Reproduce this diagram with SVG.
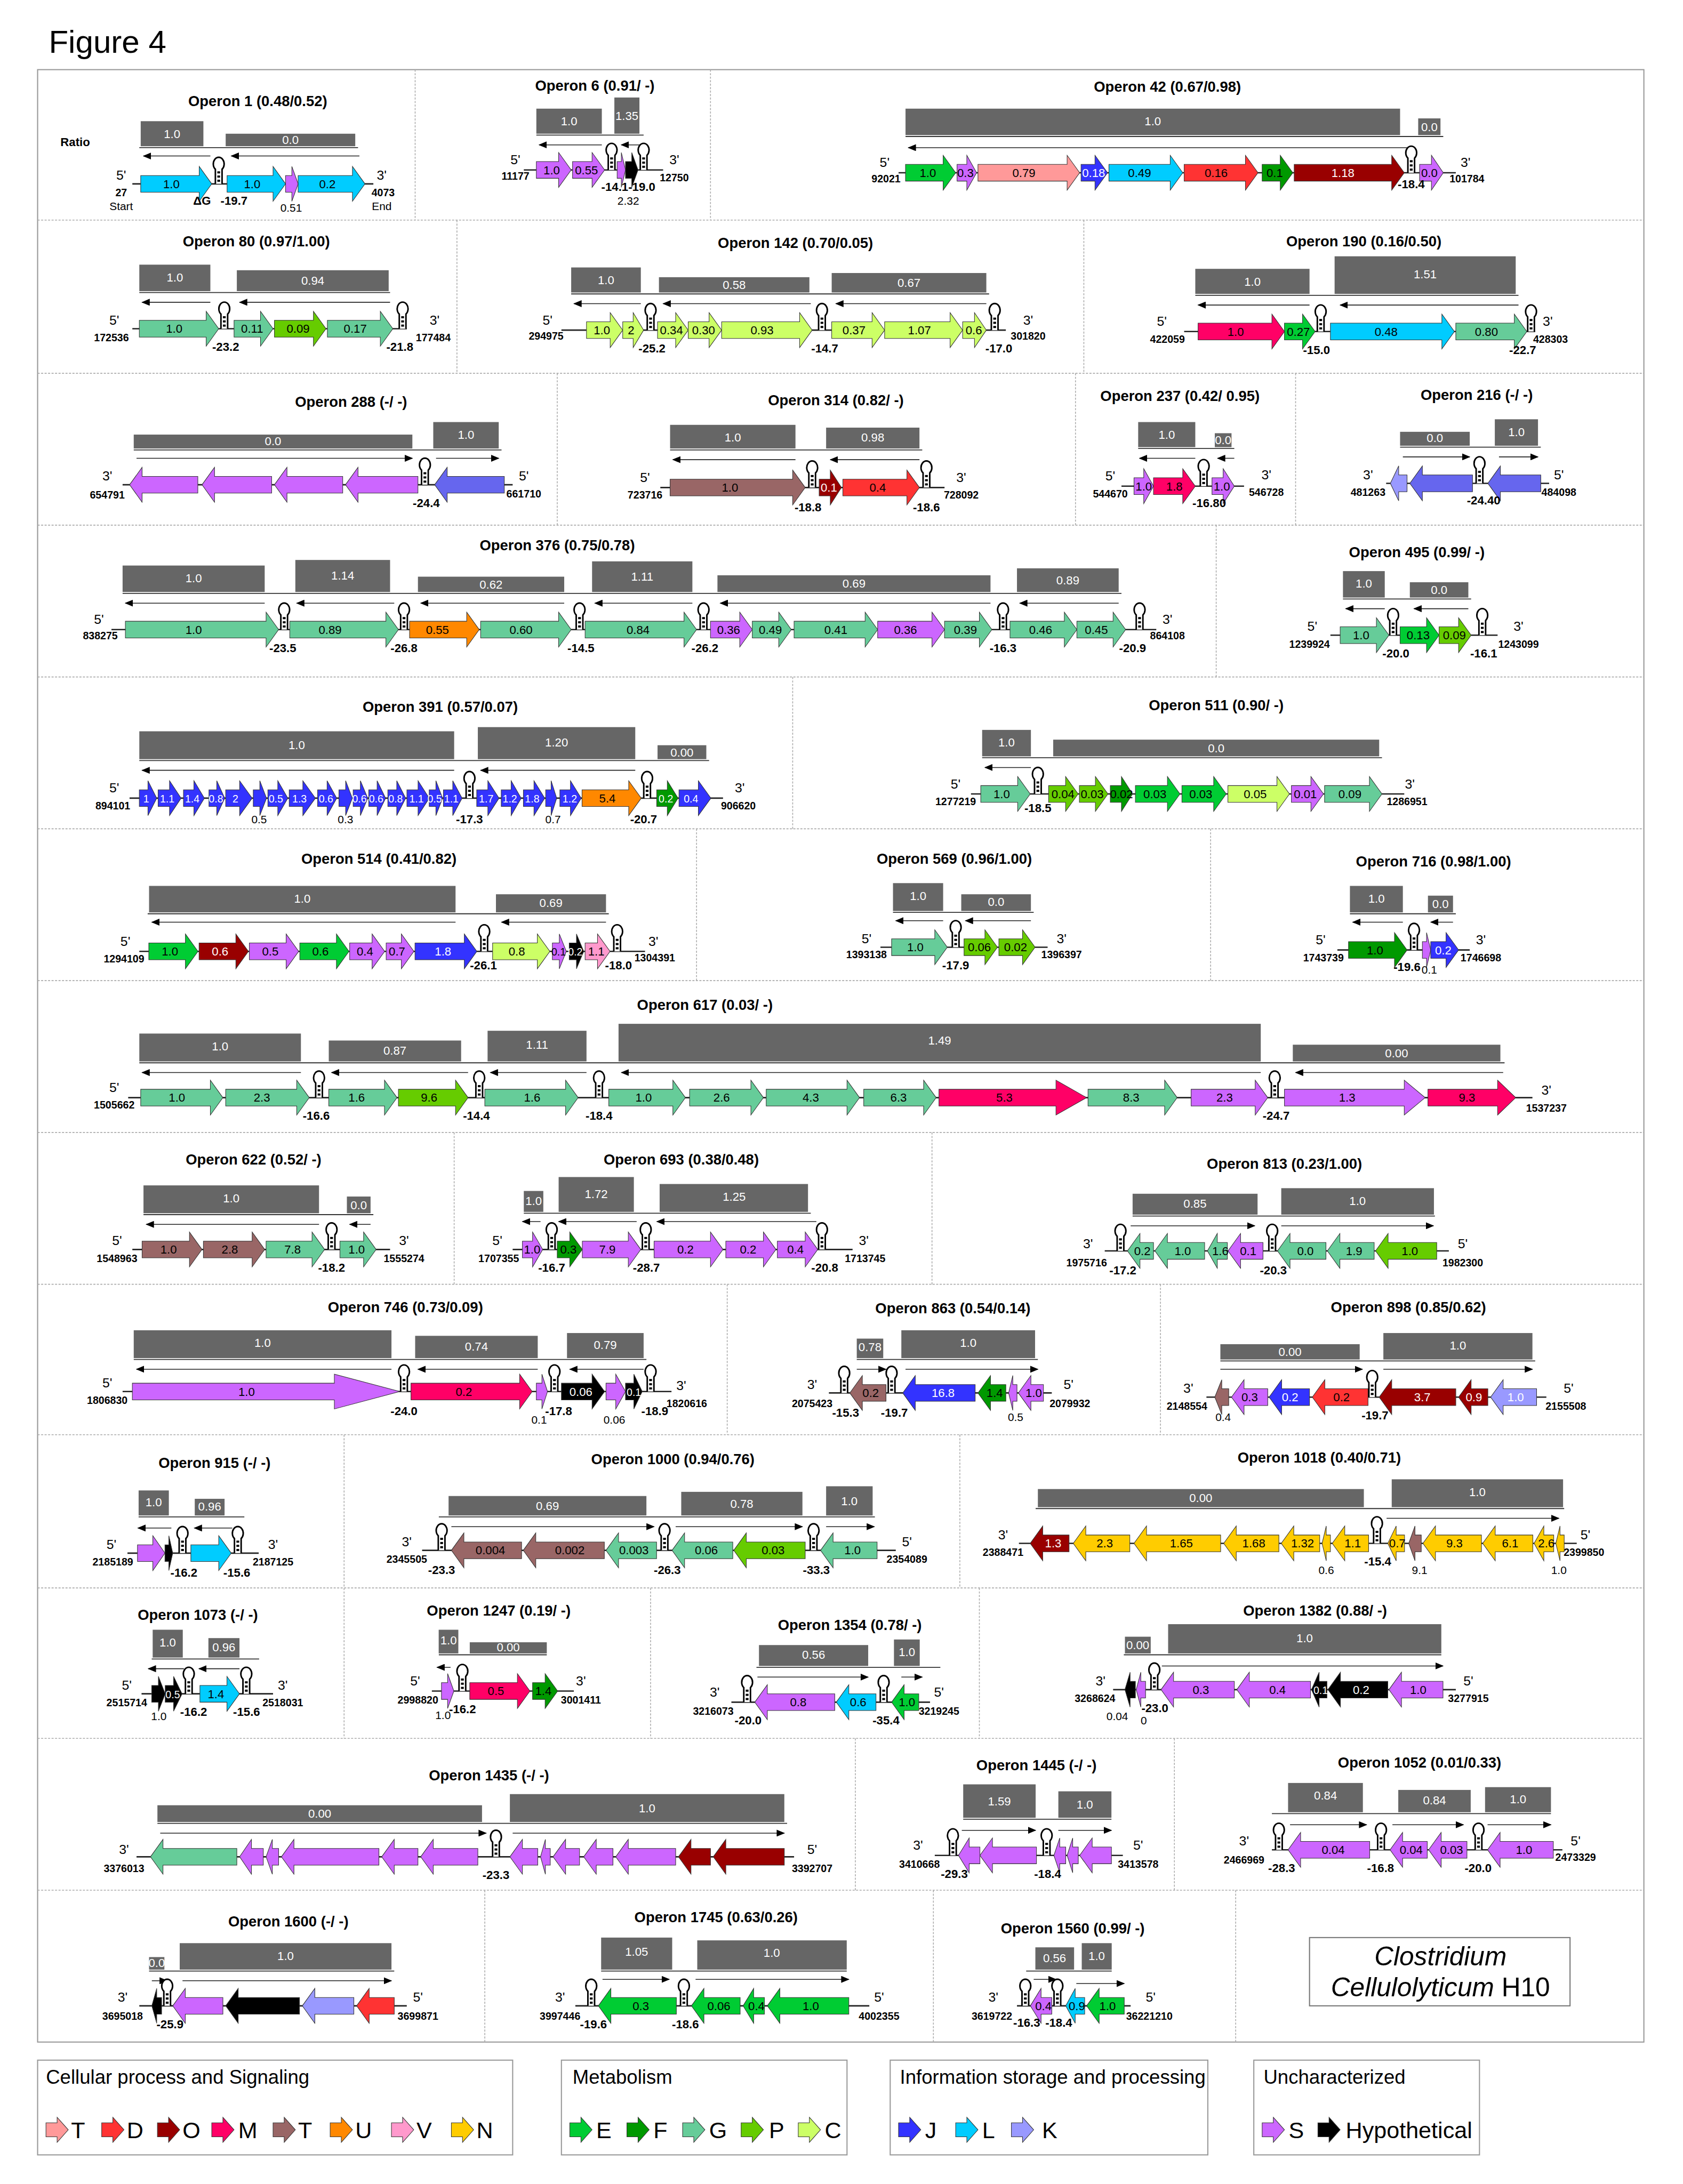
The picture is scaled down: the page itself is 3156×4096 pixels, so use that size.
<svg xmlns="http://www.w3.org/2000/svg" width="3156" height="4096" viewBox="0 0 3156 4096">
<style>
text{font-family:'Liberation Sans Narrow','Arial Narrow','Liberation Sans',Arial,sans-serif;fill:#000}
.ti{font-size:10.5px;font-weight:bold;text-anchor:middle}
.bl{font-size:8.5px;fill:#fff;text-anchor:middle}
.gl{font-size:8.5px;text-anchor:middle}
.gs{font-size:7.5px;text-anchor:middle}
.w{fill:#fff}
.cd{font-size:7.5px;font-weight:bold;text-anchor:middle}
.dg{font-size:8.5px;font-weight:bold;text-anchor:middle}
.pr{font-size:9.5px;text-anchor:middle}
.nm{font-size:8px;text-anchor:middle}
.b{fill:#666}
.bs{stroke:#333;stroke-width:.7}
.tr{stroke:#222;stroke-width:.6;marker-end:url(#ah)}
.dna{stroke:#222;stroke-width:1}
.gn path{stroke:#333;stroke-width:.4}
.cT1{fill:#ff9999}.cD{fill:#ff3333}.cO{fill:#990000}.cM{fill:#ff0066}.cT2{fill:#996666}.cU{fill:#ff8800}.cV{fill:#ff99cc}.cN{fill:#ffcc00}
.cE{fill:#00cc33}.cF{fill:#009900}.cG{fill:#66cc99}.cP{fill:#66cc00}.cC{fill:#ccff66}
.cJ{fill:#3333ff}.cL{fill:#00ccff}.cK{fill:#9999ff}.cS{fill:#cc66ff}.cH{fill:#000}.cB{fill:#6666ee}
.lg{font-size:14px}
.ll{font-size:16.5px}
</style>
<defs>
<marker id="ah" viewBox="0 0 6 5" refX="5.5" refY="2.5" markerWidth="6" markerHeight="5" markerUnits="userSpaceOnUse" orient="auto"><path d="M0,0L6,2.5L0,5z" fill="#000"/></marker>
<g id="hp"><path d="M-2.4 0V-10.5A3.9 4.8 0 1 1 2.4 -10.5V0" fill="#fff" stroke="#000" stroke-width="1.1"/><rect x="-1" y="-9" width="2" height="1.5"/><rect x="-1" y="-6" width="2" height="1.5"/><rect x="-1" y="-3" width="2" height="1.5"/></g>
</defs>
<rect width="3156" height="4096" fill="#fff"/>
<g transform="scale(2.6124)">
<text x="35" y="38" style="font-size:23px;font-family:'Liberation Sans',Arial,sans-serif">Figure 4</text>
<g id="grid" fill="none">
<rect x="27" y="50" width="1153" height="1416" stroke="#999" stroke-width=".8"/>
<g stroke="#aaa" stroke-width=".6" stroke-dasharray="1.5 1">
<path d="M27 158H1180M27 268H1180M27 377H1180M27 486H1180M27 595H1180M27 704H1180M27 813H1180M27 922H1180M27 1030H1180M27 1140H1180M27 1248H1180M27 1357H1180"/>
<path d="M298 50V158M510 50V158M328 158V268M778 158V268M400 268V377M772 268V377M930 268V377M873 377V486M569 486V595M500 595V704M869 595V704M326 813V922M669 813V922M522 922V1030M833 922V1030M247 1030V1140M689 1030V1140M247 1140V1248M467 1140V1248M703 1140V1248M614 1248V1357M843 1248V1357M348 1357V1466M670 1357V1466M887 1357V1466"/>
</g>
</g>

<!-- Operon 1 -->
<g id="op1" class="gn">
<text class="ti" x="185" y="76">Operon 1 (0.48/0.52)</text>
<text class="dg" x="54" y="105">Ratio</text>
<rect class="b" x="101" y="87" width="45" height="18"/><text class="bl" x="123.5" y="99">1.0</text>
<rect class="b" x="162" y="96" width="93" height="9"/><text class="bl" x="208.5" y="103.5">0.0</text>
<line class="bs" x1="100" y1="106" x2="257" y2="106"/>
<line class="tr" x1="151" y1="112" x2="103" y2="112"/>
<line class="tr" x1="258" y1="112" x2="166" y2="112"/>
<line class="dna" x1="95" y1="132" x2="268" y2="132"/>
<g transform="translate(0,132)">
<path class="cL" d="M101 -6H143V-12.5L152 0L143 12.5V6H101Z"/><text class="gl" x="123" y="3">1.0</text>
<path class="cL" d="M163 -6H196V-12.5L205 0L196 12.5V6H163Z"/><text class="gl" x="181" y="3">1.0</text>
<path class="cS" d="M205 -6H209.5V-12.5L214 0L209.5 12.5V6H205Z"/>
<path class="cL" d="M214 -6H253V-12.5L262 0L253 12.5V6H214Z"/><text class="gl" x="235" y="3">0.2</text>
</g>
<use href="#hp" x="157" y="132"/>
<text class="pr" x="87" y="129">5'</text><text class="cd" x="87" y="141">27</text><text class="nm" x="87" y="151">Start</text>
<text class="dg" x="145" y="147">ΔG</text><text class="dg" x="168" y="147">-19.7</text><text class="nm" x="209" y="152">0.51</text>
<text class="pr" x="274" y="129">3'</text><text class="cd" x="275" y="141">4073</text><text class="nm" x="274" y="151">End</text>
</g>

<!-- Operon 6 -->
<g id="op6" class="gn">
<text class="ti" x="427" y="65">Operon 6 (0.91/ -)</text>
<rect class="b" x="385" y="78" width="47" height="18"/><text class="bl" x="408.5" y="90">1.0</text>
<rect class="b" x="441" y="70" width="18" height="26"/><text class="bl" x="450" y="86">1.35</text>
<line class="bs" x1="385" y1="97" x2="462" y2="97"/>
<line class="tr" x1="432" y1="104" x2="387" y2="104"/>
<line class="tr" x1="460" y1="104" x2="446" y2="104"/>
<line class="dna" x1="376" y1="122" x2="476" y2="122"/>
<g transform="translate(0,122)">
<path class="cS" d="M385 -6H401V-12.5L410 0L401 12.5V6H385Z"/><text class="gl" x="396" y="3">1.0</text>
<path class="cS" d="M411 -6H425V-12.5L434 0L425 12.5V6H411Z"/><text class="gl" x="421" y="3">0.55</text>
<path class="cS" d="M443 -6H446V-12.5L449 0L446 12.5V6H443Z"/>
<path class="cH" d="M449 -6H453.5V-12.5L458 0L453.5 12.5V6H449Z"/>
</g>
<use href="#hp" x="439" y="122"/><use href="#hp" x="462" y="122"/>
<text class="pr" x="370" y="118">5'</text><text class="cd" x="370" y="129">11177</text>
<text class="dg" x="451" y="137">-14.1-19.0</text><text class="nm" x="451" y="147">2.32</text>
<text class="pr" x="484" y="118">3'</text><text class="cd" x="484" y="130">12750</text>
</g>

<!-- Operon 42 -->
<g id="op42" class="gn">
<text class="ti" x="838" y="66">Operon 42 (0.67/0.98)</text>
<rect class="b" x="650" y="78" width="355" height="19"/><text class="bl" x="827.5" y="90">1.0</text>
<rect class="b" x="1018" y="85" width="16" height="12"/><text class="bl" x="1026" y="94">0.0</text>
<line class="bs" x1="650" y1="98" x2="1036" y2="98"/>
<line class="tr" x1="1010" y1="106" x2="652" y2="106"/>
<line class="dna" x1="645" y1="124" x2="1045" y2="124"/>
<g transform="translate(0,124)">
<path class="cE" d="M650 -6H677V-12.5L686 0L677 12.5V6H650Z"/><text class="gl" x="666" y="3">1.0</text>
<path class="cS" d="M687 -6H694V-12.5L701 0L694 12.5V6H687Z"/><text class="gl" x="693" y="3">0.3</text>
<path class="cT1" d="M702 -6H766V-12.5L775 0L766 12.5V6H702Z"/><text class="gl" x="735" y="3">0.79</text>
<path class="cJ" d="M776 -6H786V-12.5L795 0L786 12.5V6H776Z"/><text class="gl w" x="785" y="3">0.18</text>
<path class="cL" d="M796 -6H840V-12.5L849 0L840 12.5V6H796Z"/><text class="gl" x="818" y="3">0.49</text>
<path class="cD" d="M850 -6H894V-12.5L903 0L894 12.5V6H850Z"/><text class="gl" x="873" y="3">0.16</text>
<path class="cF" d="M906 -6H919V-12.5L928 0L919 12.5V6H906Z"/><text class="gl" x="915" y="3">0.1</text>
<path class="cO" d="M929 -6H999V-12.5L1008 0L999 12.5V6H929Z"/><text class="gl w" x="964" y="3">1.18</text>
<path class="cS" d="M1019 -6H1027.5V-12.5L1036 0L1027.5 12.5V6H1019Z"/><text class="gl" x="1026" y="3">0.0</text>
</g>
<use href="#hp" x="1013" y="124"/>
<text class="pr" x="635" y="120">5'</text><text class="cd" x="636" y="131">92021</text>
<text class="dg" x="1013" y="135">-18.4</text>
<text class="pr" x="1052" y="120">3'</text><text class="cd" x="1053" y="131">101784</text>
</g>

<!-- Operon 80 -->
<g id="op80" class="gn">
<text class="ti" x="184" y="177">Operon 80 (0.97/1.00)</text>
<rect class="b" x="100" y="190" width="51" height="19"/><text class="bl" x="125.5" y="202">1.0</text>
<rect class="b" x="170" y="194" width="109" height="15"/><text class="bl" x="224.5" y="204.5">0.94</text>
<line class="bs" x1="100" y1="210" x2="280" y2="210"/>
<line class="tr" x1="151" y1="217" x2="102" y2="217"/>
<line class="tr" x1="280" y1="217" x2="172" y2="217"/>
<line class="dna" x1="95" y1="236" x2="292" y2="236"/>
<g transform="translate(0,236)">
<path class="cG" d="M100 -6H148V-12.5L157 0L148 12.5V6H100Z"/><text class="gl" x="125" y="3">1.0</text>
<path class="cG" d="M168 -6H187V-12.5L196 0L187 12.5V6H168Z"/><text class="gl" x="181" y="3">0.11</text>
<path class="cP" d="M197 -6H225V-12.5L234 0L225 12.5V6H197Z"/><text class="gl" x="214" y="3">0.09</text>
<path class="cG" d="M235 -6H273V-12.5L282 0L273 12.5V6H235Z"/><text class="gl" x="255" y="3">0.17</text>
</g>
<use href="#hp" x="161" y="236"/><use href="#hp" x="289" y="236"/>
<text class="pr" x="82" y="233">5'</text><text class="cd" x="80" y="245">172536</text>
<text class="dg" x="162" y="252">-23.2</text><text class="dg" x="287" y="252">-21.8</text>
<text class="pr" x="312" y="233">3'</text><text class="cd" x="311" y="245">177484</text>
</g>

<!-- Operon 142 -->
<g id="op142" class="gn">
<text class="ti" x="571" y="178">Operon 142 (0.70/0.05)</text>
<rect class="b" x="410" y="192" width="50" height="18"/><text class="bl" x="435" y="204">1.0</text>
<rect class="b" x="473" y="199" width="108" height="11"/><text class="bl" x="527" y="207.5">0.58</text>
<rect class="b" x="597" y="196" width="111" height="14"/><text class="bl" x="652.5" y="206">0.67</text>
<line class="bs" x1="410" y1="211" x2="710" y2="211"/>
<line class="tr" x1="460" y1="218" x2="412" y2="218"/>
<line class="tr" x1="582" y1="218" x2="476" y2="218"/>
<line class="tr" x1="708" y1="218" x2="600" y2="218"/>
<line class="dna" x1="403" y1="237" x2="722" y2="237"/>
<g transform="translate(0,237)">
<path class="cC" d="M421 -6H438V-12.5L447 0L438 12.5V6H421Z"/><text class="gl" x="432" y="3">1.0</text>
<path class="cC" d="M447 -6H454.5V-12.5L462 0L454.5 12.5V6H447Z"/><text class="gl" x="453" y="3">2</text>
<path class="cC" d="M472 -6H485V-12.5L494 0L485 12.5V6H472Z"/><text class="gl" x="482" y="3">0.34</text>
<path class="cC" d="M494 -6H509V-12.5L518 0L509 12.5V6H494Z"/><text class="gl" x="505" y="3">0.30</text>
<path class="cC" d="M518 -6H574V-12.5L583 0L574 12.5V6H518Z"/><text class="gl" x="547" y="3">0.93</text>
<path class="cC" d="M597 -6H626V-12.5L635 0L626 12.5V6H597Z"/><text class="gl" x="613" y="3">0.37</text>
<path class="cC" d="M635 -6H682V-12.5L691 0L682 12.5V6H635Z"/><text class="gl" x="660" y="3">1.07</text>
<path class="cC" d="M691 -6H699.5V-12.5L708 0L699.5 12.5V6H691Z"/><text class="gl" x="699" y="3">0.6</text>
</g>
<use href="#hp" x="467" y="237"/><use href="#hp" x="590" y="237"/><use href="#hp" x="714" y="237"/>
<text class="pr" x="393" y="233">5'</text><text class="cd" x="392" y="244">294975</text>
<text class="dg" x="468" y="253">-25.2</text><text class="dg" x="592" y="253">-14.7</text><text class="dg" x="717" y="253">-17.0</text>
<text class="pr" x="738" y="233">3'</text><text class="cd" x="738" y="244">301820</text>
</g>

<!-- Operon 190 -->
<g id="op190" class="gn">
<text class="ti" x="979" y="177">Operon 190 (0.16/0.50)</text>
<rect class="b" x="858" y="193" width="82" height="18"/><text class="bl" x="899" y="205">1.0</text>
<rect class="b" x="958" y="184" width="130" height="27"/><text class="bl" x="1023" y="200">1.51</text>
<line class="bs" x1="858" y1="212" x2="1090" y2="212"/>
<line class="tr" x1="940" y1="219" x2="860" y2="219"/>
<line class="tr" x1="1090" y1="219" x2="962" y2="219"/>
<line class="dna" x1="850" y1="238" x2="1102" y2="238"/>
<g transform="translate(0,238)">
<path class="cM" d="M860 -6H913V-12.5L922 0L913 12.5V6H860Z"/><text class="gl" x="887" y="3">1.0</text>
<path class="cE" d="M922 -6H935V-12.5L944 0L935 12.5V6H922Z"/><text class="gl" x="932" y="3">0.27</text>
<path class="cL" d="M955 -6H1035V-12.5L1044 0L1035 12.5V6H955Z"/><text class="gl" x="995" y="3">0.48</text>
<path class="cG" d="M1045 -6H1087V-12.5L1096 0L1087 12.5V6H1045Z"/><text class="gl" x="1067" y="3">0.80</text>
</g>
<use href="#hp" x="948" y="238"/><use href="#hp" x="1099" y="238"/>
<text class="pr" x="834" y="234">5'</text><text class="cd" x="838" y="246">422059</text>
<text class="dg" x="945" y="254">-15.0</text><text class="dg" x="1093" y="254">-22.7</text>
<text class="pr" x="1111" y="234">3'</text><text class="cd" x="1113" y="246">428303</text>
</g>

<!-- Operon 288 -->
<g id="op288" class="gn">
<text class="ti" x="252" y="292">Operon 288 (-/ -)</text>
<rect class="b" x="96" y="312" width="200" height="10"/><text class="bl" x="196" y="319.5">0.0</text>
<rect class="b" x="311" y="303" width="47" height="19"/><text class="bl" x="334.5" y="315">1.0</text>
<line class="bs" x1="96" y1="323" x2="360" y2="323"/>
<line class="tr" x1="98" y1="329" x2="296" y2="329"/>
<line class="tr" x1="313" y1="329" x2="358" y2="329"/>
<line class="dna" x1="88" y1="348" x2="368" y2="348"/>
<g transform="translate(0,348)">
<path class="cS" d="M142 -6H102V-12.5L93 0L102 12.5V6H142Z"/>
<path class="cS" d="M195 -6H154V-12.5L145 0L154 12.5V6H195Z"/>
<path class="cS" d="M246 -6H206V-12.5L197 0L206 12.5V6H246Z"/>
<path class="cS" d="M300 -6H257V-12.5L248 0L257 12.5V6H300Z"/>
<path class="cB" d="M362 -6H321V-12.5L312 0L321 12.5V6H362Z"/>
</g>
<use href="#hp" x="305" y="348"/>
<text class="pr" x="77" y="345">3'</text><text class="cd" x="77" y="358">654791</text>
<text class="dg" x="306" y="364">-24.4</text>
<text class="pr" x="376" y="345">5'</text><text class="cd" x="376" y="357">661710</text>
</g>

<!-- Operon 314 -->
<g id="op314" class="gn">
<text class="ti" x="600" y="291">Operon 314 (0.82/ -)</text>
<rect class="b" x="481" y="305" width="90" height="17"/><text class="bl" x="526" y="317">1.0</text>
<rect class="b" x="593" y="307" width="67" height="15"/><text class="bl" x="626.5" y="317">0.98</text>
<line class="bs" x1="481" y1="323" x2="662" y2="323"/>
<line class="tr" x1="571" y1="330" x2="483" y2="330"/>
<line class="tr" x1="660" y1="330" x2="596" y2="330"/>
<line class="dna" x1="474" y1="350" x2="678" y2="350"/>
<g transform="translate(0,350)">
<path class="cT2" d="M481 -6H569V-12.5L578 0L569 12.5V6H481Z"/><text class="gl" x="524" y="3">1.0</text>
<path class="cO" d="M588 -6H596V-12.5L604 0L596 12.5V6H588Z"/><text class="gl w" x="595" y="3">0.1</text>
<path class="cD" d="M605 -6H651V-12.5L660 0L651 12.5V6H605Z"/><text class="gl" x="630" y="3">0.4</text>
</g>
<use href="#hp" x="583" y="350"/><use href="#hp" x="665" y="350"/>
<text class="pr" x="463" y="346">5'</text><text class="cd" x="463" y="358">723716</text>
<text class="dg" x="580" y="367">-18.8</text><text class="dg" x="665" y="367">-18.6</text>
<text class="pr" x="690" y="346">3'</text><text class="cd" x="690" y="358">728092</text>
</g>

<!-- Operon 237 -->
<g id="op237" class="gn">
<text class="ti" x="847" y="288">Operon 237 (0.42/ 0.95)</text>
<rect class="b" x="817" y="303" width="41" height="18"/><text class="bl" x="837.5" y="315">1.0</text>
<rect class="b" x="872" y="311" width="12" height="10"/><text class="bl" x="878" y="319">0.0</text>
<line class="bs" x1="817" y1="322" x2="886" y2="322"/>
<line class="tr" x1="858" y1="329" x2="818" y2="329"/>
<line class="tr" x1="886" y1="329" x2="874" y2="329"/>
<line class="dna" x1="805" y1="349" x2="893" y2="349"/>
<g transform="translate(0,349)">
<path class="cS" d="M814 -6H821V-12.5L828 0L821 12.5V6H814Z"/><text class="gl" x="821" y="3">1.0</text>
<path class="cM" d="M828 -6H849V-12.5L858 0L849 12.5V6H828Z"/><text class="gl" x="843" y="3">1.8</text>
<path class="cS" d="M870 -6H878V-12.5L886 0L878 12.5V6H870Z"/><text class="gl" x="877" y="3">1.0</text>
</g>
<use href="#hp" x="864" y="349"/>
<text class="pr" x="797" y="345">5'</text><text class="cd" x="797" y="357">544670</text>
<text class="dg" x="868" y="364">-16.80</text>
<text class="pr" x="909" y="344">3'</text><text class="cd" x="909" y="356">546728</text>
</g>

<!-- Operon 216 -->
<g id="op216" class="gn">
<text class="ti" x="1060" y="287">Operon 216 (-/ -)</text>
<rect class="b" x="1005" y="310" width="50" height="10"/><text class="bl" x="1030" y="317.5">0.0</text>
<rect class="b" x="1073" y="301" width="31" height="19"/><text class="bl" x="1088.5" y="313">1.0</text>
<line class="bs" x1="1005" y1="321" x2="1106" y2="321"/>
<line class="tr" x1="1007" y1="328" x2="1055" y2="328"/>
<line class="tr" x1="1076" y1="328" x2="1104" y2="328"/>
<line class="dna" x1="995" y1="347" x2="1112" y2="347"/>
<g transform="translate(0,347)">
<path class="cK" d="M1010 -6H1004V-12.5L998 0L1004 12.5V6H1010Z"/>
<path class="cB" d="M1057 -6H1021V-12.5L1012 0L1021 12.5V6H1057Z"/>
<path class="cB" d="M1106 -6H1077V-12.5L1068 0L1077 12.5V6H1106Z"/>
</g>
<use href="#hp" x="1062" y="347"/>
<text class="pr" x="982" y="344">3'</text><text class="cd" x="982" y="356">481263</text>
<text class="dg" x="1065" y="362">-24.40</text>
<text class="pr" x="1119" y="344">5'</text><text class="cd" x="1119" y="356">484098</text>
</g>

<!-- Operon 376 -->
<g id="op376" class="gn">
<text class="ti" x="400" y="395">Operon 376 (0.75/0.78)</text>
<rect class="b" x="88" y="406" width="102" height="19"/><text class="bl" x="139" y="418">1.0</text>
<rect class="b" x="212" y="402" width="68" height="23"/><text class="bl" x="246" y="416">1.14</text>
<rect class="b" x="300" y="414" width="105" height="11"/><text class="bl" x="352.5" y="422.5">0.62</text>
<rect class="b" x="425" y="403" width="72" height="22"/><text class="bl" x="461" y="417">1.11</text>
<rect class="b" x="515" y="413" width="196" height="12"/><text class="bl" x="613" y="422">0.69</text>
<rect class="b" x="730" y="408" width="73" height="17"/><text class="bl" x="766.5" y="419.5">0.89</text>
<line class="bs" x1="88" y1="426" x2="805" y2="426"/>
<line class="tr" x1="190" y1="433" x2="90" y2="433"/>
<line class="tr" x1="283" y1="433" x2="213" y2="433"/>
<line class="tr" x1="405" y1="433" x2="302" y2="433"/>
<line class="tr" x1="497" y1="433" x2="427" y2="433"/>
<line class="tr" x1="711" y1="433" x2="517" y2="433"/>
<line class="tr" x1="803" y1="433" x2="732" y2="433"/>
<line class="dna" x1="80" y1="452" x2="830" y2="452"/>
<g transform="translate(0,452)">
<path class="cG" d="M90 -6H191V-12.5L200 0L191 12.5V6H90Z"/><text class="gl" x="139" y="3">1.0</text>
<path class="cG" d="M208 -6H277V-12.5L286 0L277 12.5V6H208Z"/><text class="gl" x="237" y="3">0.89</text>
<path class="cU" d="M294 -6H335V-12.5L344 0L335 12.5V6H294Z"/><text class="gl" x="314" y="3">0.55</text>
<path class="cG" d="M345 -6H401V-12.5L410 0L401 12.5V6H345Z"/><text class="gl" x="374" y="3">0.60</text>
<path class="cG" d="M420 -6H491V-12.5L500 0L491 12.5V6H420Z"/><text class="gl" x="458" y="3">0.84</text>
<path class="cS" d="M510 -6H531V-12.5L540 0L531 12.5V6H510Z"/><text class="gl" x="523" y="3">0.36</text>
<path class="cG" d="M540 -6H559V-12.5L568 0L559 12.5V6H540Z"/><text class="gl" x="553" y="3">0.49</text>
<path class="cG" d="M570 -6H621V-12.5L630 0L621 12.5V6H570Z"/><text class="gl" x="600" y="3">0.41</text>
<path class="cS" d="M630 -6H669V-12.5L678 0L669 12.5V6H630Z"/><text class="gl" x="650" y="3">0.36</text>
<path class="cG" d="M678 -6H703V-12.5L712 0L703 12.5V6H678Z"/><text class="gl" x="693" y="3">0.39</text>
<path class="cG" d="M725 -6H764V-12.5L773 0L764 12.5V6H725Z"/><text class="gl" x="747" y="3">0.46</text>
<path class="cG" d="M773 -6H799V-12.5L808 0L799 12.5V6H773Z"/><text class="gl" x="787" y="3">0.45</text>
</g>
<use href="#hp" x="204" y="452"/><use href="#hp" x="290" y="452"/><use href="#hp" x="416" y="452"/><use href="#hp" x="505" y="452"/><use href="#hp" x="720" y="452"/><use href="#hp" x="818" y="452"/>
<text class="pr" x="71" y="448">5'</text><text class="cd" x="72" y="459">838275</text>
<text class="dg" x="203" y="468">-23.5</text><text class="dg" x="290" y="468">-26.8</text><text class="dg" x="417" y="468">-14.5</text><text class="dg" x="506" y="468">-26.2</text><text class="dg" x="720" y="468">-16.3</text><text class="dg" x="813" y="468">-20.9</text>
<text class="pr" x="838" y="448">3'</text><text class="cd" x="838" y="459">864108</text>
</g>

<!-- Operon 495 -->
<g id="op495" class="gn">
<text class="ti" x="1017" y="400">Operon 495 (0.99/ -)</text>
<rect class="b" x="964" y="410" width="30" height="19"/><text class="bl" x="979" y="422">1.0</text>
<rect class="b" x="1012" y="418" width="42" height="11"/><text class="bl" x="1033" y="426.5">0.0</text>
<line class="bs" x1="964" y1="430" x2="1056" y2="430"/>
<line class="tr" x1="994" y1="437" x2="966" y2="437"/>
<line class="tr" x1="1054" y1="437" x2="1015" y2="437"/>
<line class="dna" x1="955" y1="456" x2="1075" y2="456"/>
<g transform="translate(0,456)">
<path class="cG" d="M962 -6H988V-12.5L997 0L988 12.5V6H962Z"/><text class="gl" x="977" y="3">1.0</text>
<path class="cE" d="M1005 -6H1024V-12.5L1033 0L1024 12.5V6H1005Z"/><text class="gl" x="1018" y="3">0.13</text>
<path class="cP" d="M1033 -6H1047V-12.5L1056 0L1047 12.5V6H1033Z"/><text class="gl" x="1044" y="3">0.09</text>
</g>
<use href="#hp" x="1000" y="456"/><use href="#hp" x="1064" y="456"/>
<text class="pr" x="942" y="453">5'</text><text class="cd" x="940" y="465">1239924</text>
<text class="dg" x="1002" y="472">-20.0</text><text class="dg" x="1065" y="472">-16.1</text>
<text class="pr" x="1090" y="453">3'</text><text class="cd" x="1090" y="465">1243099</text>
</g>

<!-- Operon 391 -->
<g id="op391" class="gn">
<text class="ti" x="316" y="511">Operon 391 (0.57/0.07)</text>
<rect class="b" x="100" y="525" width="226" height="20"/><text class="bl" x="213" y="538">1.0</text>
<rect class="b" x="343" y="522" width="113" height="23"/><text class="bl" x="399.5" y="536">1.20</text>
<rect class="b" x="472" y="535" width="35" height="10"/><text class="bl" x="489.5" y="543">0.00</text>
<line class="bs" x1="100" y1="546" x2="509" y2="546"/>
<line class="tr" x1="326" y1="553" x2="102" y2="553"/>
<line class="tr" x1="456" y1="553" x2="345" y2="553"/>
<line class="dna" x1="93" y1="573" x2="519" y2="573"/>
<g transform="translate(0,573)">
<path class="cJ" d="M100 -6H106.2V-12.5L112.5 0L106.2 12.5V6H100Z"/><text class="gs w" x="105" y="3">1</text>
<path class="cJ" d="M113.5 -6H121.7V-12.5L130 0L121.7 12.5V6H113.5Z"/><text class="gs w" x="120" y="3">1.1</text>
<path class="cJ" d="M131.7 -6H139.2V-12.5L146.7 0L139.2 12.5V6H131.7Z"/><text class="gs w" x="138" y="3">1.4</text>
<path class="cJ" d="M150 -6H155.6V-12.5L161.3 0L155.6 12.5V6H150Z"/><text class="gs w" x="155" y="3">0.8</text>
<path class="cJ" d="M162 -6H172V-12.5L181 0L172 12.5V6H162Z"/><text class="gs w" x="169" y="3">2</text>
<path class="cJ" d="M181.8 -6H186.5V-12.5L191.3 0L186.5 12.5V6H181.8Z"/>
<path class="cJ" d="M192.3 -6H199.4V-12.5L206.6 0L199.4 12.5V6H192.3Z"/><text class="gs w" x="198" y="3">0.5</text>
<path class="cJ" d="M207.6 -6H217.4V-12.5L226.4 0L217.4 12.5V6H207.6Z"/><text class="gs w" x="215" y="3">1.3</text>
<path class="cJ" d="M228 -6H234.8V-12.5L241.7 0L234.8 12.5V6H228Z"/><text class="gs w" x="234" y="3">0.6</text>
<path class="cJ" d="M243.3 -6H248.1V-12.5L252.9 0L248.1 12.5V6H243.3Z"/>
<path class="cJ" d="M253.5 -6H258.7V-12.5L264 0L258.7 12.5V6H253.5Z"/><text class="gs w" x="258" y="3">0.6</text>
<path class="cJ" d="M264.7 -6H270.7V-12.5L276.8 0L270.7 12.5V6H264.7Z"/><text class="gs w" x="270" y="3">0.6</text>
<path class="cJ" d="M278.4 -6H284.8V-12.5L291.2 0L284.8 12.5V6H278.4Z"/><text class="gs w" x="284" y="3">0.8</text>
<path class="cJ" d="M292.1 -6H300.1V-12.5L308.1 0L300.1 12.5V6H292.1Z"/><text class="gs w" x="299" y="3">1.1</text>
<path class="cJ" d="M308.1 -6H312.9V-12.5L317.7 0L312.9 12.5V6H308.1Z"/><text class="gs w" x="312" y="3">0.5</text>
<path class="cJ" d="M318.3 -6H325V-12.5L331.7 0L325 12.5V6H318.3Z"/><text class="gs w" x="324" y="3">1.1</text>
<path class="cJ" d="M342.2 -6H350.2V-12.5L358.2 0L350.2 12.5V6H342.2Z"/><text class="gs w" x="349" y="3">1.7</text>
<path class="cJ" d="M359.8 -6H366.9V-12.5L374.1 0L366.9 12.5V6H359.8Z"/><text class="gs w" x="366" y="3">1.2</text>
<path class="cJ" d="M375.7 -6H383.3V-12.5L391 0L383.3 12.5V6H375.7Z"/><text class="gs w" x="382" y="3">1.8</text>
<path class="cJ" d="M391.7 -6H395.6V-12.5L399.6 0L395.6 12.5V6H391.7Z"/>
<path class="cJ" d="M401.9 -6H409.5V-12.5L417.2 0L409.5 12.5V6H401.9Z"/><text class="gs w" x="409" y="3">1.2</text>
<path class="cU" d="M417.8 -6H451.3V-12.5L460.3 0L451.3 12.5V6H417.8Z"/><text class="gl" x="436" y="3">5.4</text>
<path class="cF" d="M471.4 -6H479V-12.5L486.7 0L479 12.5V6H471.4Z"/><text class="gs w" x="478" y="3">0.2</text>
<path class="cJ" d="M487.4 -6H501.3V-12.5L510.3 0L501.3 12.5V6H487.4Z"/><text class="gs w" x="496" y="3">0.4</text>
</g>
<use href="#hp" x="337" y="573"/><use href="#hp" x="464.5" y="573"/>
<text class="pr" x="82" y="569">5'</text><text class="cd" x="81" y="581">894101</text>
<text class="nm" x="186" y="591">0.5</text><text class="nm" x="248" y="591">0.3</text><text class="dg" x="337" y="591">-17.3</text><text class="nm" x="397" y="591">0.7</text><text class="dg" x="462" y="591">-20.7</text>
<text class="pr" x="531" y="569">3'</text><text class="cd" x="530" y="581">906620</text>
</g>

<!-- Operon 511 -->
<g id="op511" class="gn">
<text class="ti" x="873" y="510">Operon 511 (0.90/ -)</text>
<rect class="b" x="705" y="524" width="35" height="19"/><text class="bl" x="722.5" y="536">1.0</text>
<rect class="b" x="756" y="531" width="234" height="12"/><text class="bl" x="873" y="540">0.0</text>
<line class="bs" x1="705" y1="544" x2="992" y2="544"/>
<line class="tr" x1="740" y1="551" x2="707" y2="551"/>
<line class="dna" x1="697" y1="570" x2="1008" y2="570"/>
<g transform="translate(0,570)">
<path class="cG" d="M704 -6H730.5V-12.5L739.5 0L730.5 12.5V6H704Z"/><text class="gl" x="719" y="3">1.0</text>
<path class="cP" d="M752.7 -6H764.9V-12.5L773.9 0L764.9 12.5V6H752.7Z"/><text class="gl" x="763" y="3">0.04</text>
<path class="cP" d="M774.8 -6H786.3V-12.5L795.3 0L786.3 12.5V6H774.8Z"/><text class="gl" x="784" y="3">0.03</text>
<path class="cF" d="M797 -6H805V-12.5L813 0L805 12.5V6H797Z"/><text class="gl" x="805" y="3">0.02</text>
<path class="cE" d="M815 -6H838V-12.5L847 0L838 12.5V6H815Z"/><text class="gl" x="829" y="3">0.03</text>
<path class="cE" d="M848.4 -6H871.2V-12.5L880.2 0L871.2 12.5V6H848.4Z"/><text class="gl" x="862" y="3">0.03</text>
<path class="cC" d="M881.4 -6H916.6V-12.5L925.6 0L916.6 12.5V6H881.4Z"/><text class="gl" x="901" y="3">0.05</text>
<path class="cS" d="M927 -6H941V-12.5L950 0L941 12.5V6H927Z"/><text class="gl" x="937" y="3">0.01</text>
<path class="cG" d="M950.8 -6H983V-12.5L992 0L983 12.5V6H950.8Z"/><text class="gl" x="969" y="3">0.09</text>
</g>
<use href="#hp" x="745" y="570"/>
<text class="pr" x="686" y="566">5'</text><text class="cd" x="686" y="578">1277219</text>
<text class="dg" x="745" y="583">-18.5</text>
<text class="pr" x="1012" y="566">3'</text><text class="cd" x="1010" y="578">1286951</text>
</g>

<!-- Operon 514 -->
<g id="op514" class="gn">
<text class="ti" x="272" y="620">Operon 514 (0.41/0.82)</text>
<rect class="b" x="107" y="636" width="220" height="19"/><text class="bl" x="217" y="648">1.0</text>
<rect class="b" x="356" y="642" width="79" height="13"/><text class="bl" x="395.5" y="651">0.69</text>
<line class="bs" x1="106" y1="656" x2="437" y2="656"/>
<line class="tr" x1="327" y1="662" x2="109" y2="662"/>
<line class="tr" x1="435" y1="662" x2="360" y2="662"/>
<line class="dna" x1="100" y1="683" x2="463" y2="683"/>
<g transform="translate(0,683)">
<path class="cE" d="M106.8 -6H133.1V-12.5L142.1 0L133.1 12.5V6H106.8Z"/><text class="gl" x="122" y="3">1.0</text>
<path class="cO" d="M142.9 -6H169.3V-12.5L178.3 0L169.3 12.5V6H142.9Z"/><text class="gl w" x="158" y="3">0.6</text>
<path class="cS" d="M179 -6H205.4V-12.5L214.4 0L205.4 12.5V6H179Z"/><text class="gl" x="194" y="3">0.5</text>
<path class="cE" d="M215.2 -6H241.5V-12.5L250.5 0L241.5 12.5V6H215.2Z"/><text class="gl" x="230" y="3">0.6</text>
<path class="cS" d="M251 -6H267.1V-12.5L276.1 0L267.1 12.5V6H251Z"/><text class="gl" x="262" y="3">0.4</text>
<path class="cS" d="M277.2 -6H288.1V-12.5L297.1 0L288.1 12.5V6H277.2Z"/><text class="gl" x="285" y="3">0.7</text>
<path class="cJ" d="M297.9 -6H333.3V-12.5L342.3 0L333.3 12.5V6H297.9Z"/><text class="gl w" x="318" y="3">1.8</text>
<path class="cC" d="M353.6 -6H385.7V-12.5L394.7 0L385.7 12.5V6H353.6Z"/><text class="gl" x="371" y="3">0.8</text>
<path class="cS" d="M396.5 -6H401.5V-12.5L406.5 0L401.5 12.5V6H396.5Z"/><text class="gs" x="401" y="3">0.1</text>
<path class="cH" d="M408.6 -6H413.8V-12.5L419 0L413.8 12.5V6H408.6Z"/><text class="gs w" x="413" y="3">0.2</text>
<path class="cV" d="M420 -6H428.9V-12.5L437.9 0L428.9 12.5V6H420Z"/><text class="gl" x="428" y="3">1.1</text>
</g>
<use href="#hp" x="347.6" y="683"/><use href="#hp" x="443" y="683"/>
<text class="pr" x="90" y="679">5'</text><text class="cd" x="89" y="691">1294109</text>
<text class="dg" x="347" y="696">-26.1</text><text class="dg" x="444" y="696">-18.0</text>
<text class="pr" x="469" y="679">3'</text><text class="cd" x="470" y="690">1304391</text>
</g>

<!-- Operon 569 -->
<g id="op569" class="gn">
<text class="ti" x="685" y="620">Operon 569 (0.96/1.00)</text>
<rect class="b" x="641" y="634" width="36" height="20"/><text class="bl" x="659" y="646">1.0</text>
<rect class="b" x="690" y="642" width="50" height="12"/><text class="bl" x="715" y="650.5">0.0</text>
<line class="bs" x1="641" y1="655" x2="742" y2="655"/>
<line class="tr" x1="677" y1="661" x2="643" y2="661"/>
<line class="tr" x1="740" y1="661" x2="693" y2="661"/>
<line class="dna" x1="632" y1="680" x2="752" y2="680"/>
<g transform="translate(0,680)">
<path class="cG" d="M640 -6H671V-12.5L680 0L671 12.5V6H640Z"/><text class="gl" x="657" y="3">1.0</text>
<path class="cP" d="M692 -6H707V-12.5L716 0L707 12.5V6H692Z"/><text class="gl" x="703" y="3">0.06</text>
<path class="cP" d="M717 -6H734V-12.5L743 0L734 12.5V6H717Z"/><text class="gl" x="729" y="3">0.02</text>
</g>
<use href="#hp" x="686" y="680"/>
<text class="pr" x="622" y="677">5'</text><text class="cd" x="622" y="688">1393138</text>
<text class="dg" x="686" y="696">-17.9</text>
<text class="pr" x="762" y="677">3'</text><text class="cd" x="762" y="688">1396397</text>
</g>

<!-- Operon 716 -->
<g id="op716" class="gn">
<text class="ti" x="1029" y="622">Operon 716 (0.98/1.00)</text>
<rect class="b" x="969" y="636" width="38" height="19"/><text class="bl" x="988" y="648">1.0</text>
<rect class="b" x="1025" y="643" width="18" height="12"/><text class="bl" x="1034" y="652">0.0</text>
<line class="bs" x1="969" y1="656" x2="1045" y2="656"/>
<line class="tr" x1="1007" y1="662" x2="971" y2="662"/>
<line class="tr" x1="1043" y1="662" x2="1027" y2="662"/>
<line class="dna" x1="960" y1="682" x2="1055" y2="682"/>
<g transform="translate(0,682)">
<path class="cF" d="M968 -6H1001V-12.5L1010 0L1001 12.5V6H968Z"/><text class="gl" x="987" y="3">1.0</text>
<path class="cS" d="M1021 -6H1024V-12.5L1027 0L1024 12.5V6H1021Z"/>
<path class="cJ" d="M1027 -6H1038V-12.5L1047 0L1038 12.5V6H1027Z"/><text class="gl w" x="1036" y="3">0.2</text>
</g>
<use href="#hp" x="1015" y="682"/>
<text class="pr" x="948" y="678">5'</text><text class="cd" x="950" y="690">1743739</text>
<text class="dg" x="1010" y="697">-19.6</text><text class="nm" x="1026" y="699">0.1</text>
<text class="pr" x="1063" y="678">3'</text><text class="cd" x="1063" y="690">1746698</text>
</g>

<!-- Operon 617 -->
<g id="op617" class="gn">
<text class="ti" x="506" y="725">Operon 617 (0.03/ -)</text>
<rect class="b" x="100" y="742" width="116" height="20"/><text class="bl" x="158" y="754">1.0</text>
<rect class="b" x="236" y="747" width="95" height="15"/><text class="bl" x="283.5" y="757">0.87</text>
<rect class="b" x="350" y="740" width="71" height="22"/><text class="bl" x="385.5" y="753">1.11</text>
<rect class="b" x="444" y="735" width="461" height="27"/><text class="bl" x="674.5" y="750">1.49</text>
<rect class="b" x="928" y="750" width="149" height="12"/><text class="bl" x="1002.5" y="759">0.00</text>
<line class="bs" x1="100" y1="763" x2="1080" y2="763"/>
<line class="tr" x1="216" y1="770" x2="102" y2="770"/>
<line class="tr" x1="336" y1="770" x2="238" y2="770"/>
<line class="tr" x1="421" y1="770" x2="352" y2="770"/>
<line class="tr" x1="905" y1="770" x2="446" y2="770"/>
<line class="tr" x1="1079" y1="770" x2="930" y2="770"/>
<line class="dna" x1="92" y1="788" x2="1100" y2="788"/>
<g transform="translate(0,788)">
<path class="cG" d="M101 -6H151V-12.5L160 0L151 12.5V6H101Z"/><text class="gl" x="127" y="3">1.0</text>
<path class="cG" d="M162 -6H213V-12.5L222 0L213 12.5V6H162Z"/><text class="gl" x="188" y="3">2.3</text>
<path class="cG" d="M236 -6H276V-12.5L285 0L276 12.5V6H236Z"/><text class="gl" x="256" y="3">1.6</text>
<path class="cP" d="M286 -6H327V-12.5L336 0L327 12.5V6H286Z"/><text class="gl" x="308" y="3">9.6</text>
<path class="cG" d="M348 -6H406V-12.5L415 0L406 12.5V6H348Z"/><text class="gl" x="382" y="3">1.6</text>
<path class="cG" d="M437 -6H483V-12.5L492 0L483 12.5V6H437Z"/><text class="gl" x="462" y="3">1.0</text>
<path class="cG" d="M495 -6H539V-12.5L548 0L539 12.5V6H495Z"/><text class="gl" x="518" y="3">2.6</text>
<path class="cG" d="M550 -6H608V-12.5L617 0L608 12.5V6H550Z"/><text class="gl" x="582" y="3">4.3</text>
<path class="cG" d="M620 -6H663V-12.5L672 0L663 12.5V6H620Z"/><text class="gl" x="645" y="3">6.3</text>
<path class="cM" d="M674 -6H758V-12.5L780 0L758 12.5V6H674Z"/><text class="gl" x="721" y="3">5.3</text>
<path class="cG" d="M781 -6H836V-12.5L845 0L836 12.5V6H781Z"/><text class="gl" x="812" y="3">8.3</text>
<path class="cS" d="M855 -6H901V-12.5L910 0L901 12.5V6H855Z"/><text class="gl" x="879" y="3">2.3</text>
<path class="cS" d="M922 -6H1008V-12.5L1023 0L1008 12.5V6H922Z"/><text class="gl" x="967" y="3">1.3</text>
<path class="cM" d="M1025 -6H1075V-12.5L1088 0L1075 12.5V6H1025Z"/><text class="gl" x="1053" y="3">9.3</text>
</g>
<use href="#hp" x="229" y="788"/><use href="#hp" x="344" y="788"/><use href="#hp" x="430" y="788"/><use href="#hp" x="915" y="788"/>
<text class="pr" x="82" y="784">5'</text><text class="cd" x="82" y="796">1505662</text>
<text class="dg" x="227" y="804">-16.6</text><text class="dg" x="342" y="804">-14.4</text><text class="dg" x="430" y="804">-18.4</text><text class="dg" x="916" y="804">-24.7</text>
<text class="pr" x="1110" y="786">3'</text><text class="cd" x="1110" y="798">1537237</text>
</g>

<!-- Operon 622 -->
<g id="op622" class="gn">
<text class="ti" x="182" y="836">Operon 622 (0.52/ -)</text>
<rect class="b" x="103" y="851" width="126" height="20"/><text class="bl" x="166" y="863">1.0</text>
<rect class="b" x="249" y="859" width="17" height="12"/><text class="bl" x="257.5" y="868">0.0</text>
<line class="bs" x1="103" y1="872" x2="268" y2="872"/>
<line class="tr" x1="229" y1="879" x2="105" y2="879"/>
<line class="tr" x1="266" y1="879" x2="251" y2="879"/>
<line class="dna" x1="95" y1="897" x2="280" y2="897"/>
<g transform="translate(0,897)">
<path class="cT2" d="M102 -6H136V-12.5L145 0L136 12.5V6H102Z"/><text class="gl" x="121" y="3">1.0</text>
<path class="cT2" d="M146 -6H181V-12.5L190 0L181 12.5V6H146Z"/><text class="gl" x="165" y="3">2.8</text>
<path class="cG" d="M191 -6H224V-12.5L233 0L224 12.5V6H191Z"/><text class="gl" x="210" y="3">7.8</text>
<path class="cG" d="M244 -6H261V-12.5L270 0L261 12.5V6H244Z"/><text class="gl" x="256" y="3">1.0</text>
</g>
<use href="#hp" x="238" y="897"/>
<text class="pr" x="84" y="894">5'</text><text class="cd" x="84" y="906">1548963</text>
<text class="dg" x="238" y="913">-18.2</text>
<text class="pr" x="290" y="894">3'</text><text class="cd" x="290" y="906">1555274</text>
</g>

<!-- Operon 693 -->
<g id="op693" class="gn">
<text class="ti" x="489" y="836">Operon 693 (0.38/0.48)</text>
<rect class="b" x="376" y="855" width="14" height="15"/><text class="bl" x="383" y="865">1.0</text>
<rect class="b" x="401" y="845" width="54" height="25"/><text class="bl" x="428" y="860">1.72</text>
<rect class="b" x="473.5" y="850" width="106.5" height="20"/><text class="bl" x="527" y="862">1.25</text>
<line class="bs" x1="376" y1="871" x2="582" y2="871"/>
<line class="tr" x1="388" y1="877" x2="375" y2="877"/>
<line class="tr" x1="457" y1="877" x2="401" y2="877"/>
<line class="tr" x1="586" y1="877" x2="471.5" y2="877"/>
<line class="dna" x1="368" y1="897" x2="612" y2="897"/>
<g transform="translate(0,897)">
<path class="cS" d="M375 -6H382.3V-12.5L389.6 0L382.3 12.5V6H375Z"/><text class="gl" x="382" y="3">1.0</text>
<path class="cF" d="M400 -6H409V-12.5L418 0L409 12.5V6H400Z"/><text class="gl" x="408" y="3">0.3</text>
<path class="cS" d="M418 -6H451V-12.5L460 0L451 12.5V6H418Z"/><text class="gl" x="436" y="3">7.9</text>
<path class="cS" d="M469.5 -6H510V-12.5L519 0L510 12.5V6H469.5Z"/><text class="gl" x="492" y="3">0.2</text>
<path class="cS" d="M521 -6H548V-12.5L557 0L548 12.5V6H521Z"/><text class="gl" x="537" y="3">0.2</text>
<path class="cS" d="M558 -6H578V-12.5L587 0L578 12.5V6H558Z"/><text class="gl" x="571" y="3">0.4</text>
</g>
<use href="#hp" x="396" y="897"/><use href="#hp" x="463.5" y="897"/><use href="#hp" x="590" y="897"/>
<text class="pr" x="357" y="894">5'</text><text class="cd" x="358" y="906">1707355</text>
<text class="dg" x="396" y="913">-16.7</text><text class="dg" x="464" y="913">-28.7</text><text class="dg" x="592" y="913">-20.8</text>
<text class="pr" x="620" y="894">3'</text><text class="cd" x="621" y="906">1713745</text>
</g>

<!-- Operon 813 -->
<g id="op813" class="gn">
<text class="ti" x="922" y="839">Operon 813 (0.23/1.00)</text>
<rect class="b" x="813" y="857" width="89.7" height="15"/><text class="bl" x="857.8" y="867">0.85</text>
<rect class="b" x="919.7" y="853" width="109.6" height="19"/><text class="bl" x="974.5" y="865">1.0</text>
<line class="bs" x1="813" y1="873" x2="1030" y2="873"/>
<line class="tr" x1="811.6" y1="880" x2="900.7" y2="880"/>
<line class="tr" x1="919.7" y1="880" x2="1029" y2="880"/>
<line class="dna" x1="793" y1="898" x2="1040" y2="898"/>
<g transform="translate(0,898)">
<path class="cG" d="M828 -6H818.3V-12.5L809.3 0L818.3 12.5V6H828Z"/><text class="gl" x="820" y="3">0.2</text>
<path class="cG" d="M864.7 -6H838V-12.5L829 0L838 12.5V6H864.7Z"/><text class="gl" x="849" y="3">1.0</text>
<path class="cG" d="M881 -6H873.8V-12.5L866.7 0L873.8 12.5V6H881Z"/><text class="gl" x="876" y="3">1.6</text>
<path class="cS" d="M906.6 -6H890.5V-12.5L881.5 0L890.5 12.5V6H906.6Z"/><text class="gl" x="896" y="3">0.1</text>
<path class="cG" d="M951.8 -6H926V-12.5L917 0L926 12.5V6H951.8Z"/><text class="gl" x="937" y="3">0.0</text>
<path class="cG" d="M986.4 -6H961.8V-12.5L952.8 0L961.8 12.5V6H986.4Z"/><text class="gl" x="972" y="3">1.9</text>
<path class="cP" d="M1031.3 -6H996.4V-12.5L987.4 0L996.4 12.5V6H1031.3Z"/><text class="gl" x="1012" y="3">1.0</text>
</g>
<use href="#hp" x="804.3" y="898"/><use href="#hp" x="913.2" y="898"/>
<text class="pr" x="781" y="896">3'</text><text class="cd" x="780" y="909">1975716</text>
<text class="dg" x="806" y="915">-17.2</text><text class="dg" x="914" y="915">-20.3</text>
<text class="pr" x="1050" y="896">5'</text><text class="cd" x="1050" y="909">1982300</text>
</g>

<!-- Operon 746 -->
<g id="op746" class="gn">
<text class="ti" x="291" y="942">Operon 746 (0.73/0.09)</text>
<rect class="b" x="96" y="955" width="185" height="20"/><text class="bl" x="188.5" y="967">1.0</text>
<rect class="b" x="298" y="959" width="88" height="16"/><text class="bl" x="342" y="969.5">0.74</text>
<rect class="b" x="407" y="957" width="55" height="18"/><text class="bl" x="434.5" y="968.5">0.79</text>
<line class="bs" x1="96" y1="976" x2="464" y2="976"/>
<line class="tr" x1="281" y1="983" x2="98" y2="983"/>
<line class="tr" x1="386" y1="983" x2="300" y2="983"/>
<line class="tr" x1="462" y1="983" x2="409" y2="983"/>
<line class="dna" x1="88" y1="999" x2="482" y2="999"/>
<g transform="translate(0,999)">
<path class="cS" d="M95 -6H240V-12.5L287 0L240 12.5V6H95Z"/><text class="gl" x="177" y="3">1.0</text>
<path class="cM" d="M295 -6H373V-12.5L382 0L373 12.5V6H295Z"/><text class="gl" x="333" y="3">0.2</text>
<path class="cS" d="M385 -6H389V-12.5L393 0L389 12.5V6H385Z"/>
<path class="cH" d="M403 -6H425V-12.5L434 0L425 12.5V6H403Z"/><text class="gl w" x="417" y="3">0.06</text>
<path class="cS" d="M435 -6H442V-12.5L449 0L442 12.5V6H435Z"/>
<path class="cH" d="M449 -6H455V-12.5L461 0L455 12.5V6H449Z"/><text class="gs w" x="455" y="3">0.1</text>
</g>
<use href="#hp" x="290" y="999"/><use href="#hp" x="398" y="999"/><use href="#hp" x="467" y="999"/>
<text class="pr" x="77" y="996">5'</text><text class="cd" x="77" y="1008">1806830</text>
<text class="dg" x="290" y="1016">-24.0</text><text class="nm" x="387" y="1022">0.1</text><text class="dg" x="401" y="1016">-17.8</text><text class="nm" x="441" y="1022">0.06</text><text class="dg" x="470" y="1016">-18.9</text>
<text class="pr" x="489" y="998">3'</text><text class="cd" x="493" y="1010">1820616</text>
</g>

<!-- Operon 863 -->
<g id="op863" class="gn">
<text class="ti" x="684" y="943">Operon 863 (0.54/0.14)</text>
<rect class="b" x="615" y="961" width="19" height="14"/><text class="bl" x="624.5" y="970">0.78</text>
<rect class="b" x="647" y="955" width="96" height="20"/><text class="bl" x="695" y="967">1.0</text>
<line class="bs" x1="615" y1="976" x2="745" y2="976"/>
<line class="tr" x1="615" y1="983" x2="636" y2="983"/>
<line class="tr" x1="650" y1="983" x2="745" y2="983"/>
<line class="dna" x1="595" y1="1000" x2="755" y2="1000"/>
<g transform="translate(0,1000)">
<path class="cT2" d="M636 -6H619V-12.5L610 0L619 12.5V6H636Z"/><text class="gl" x="625" y="3">0.2</text>
<path class="cJ" d="M700 -6H657V-12.5L648 0L657 12.5V6H700Z"/><text class="gl w" x="677" y="3">16.8</text>
<path class="cF" d="M722 -6H711V-12.5L702 0L711 12.5V6H722Z"/><text class="gl" x="714" y="3">1.4</text>
<path class="cS" d="M730 -6H727V-12.5L724 0L727 12.5V6H730Z"/>
<path class="cS" d="M749 -6H740V-12.5L731 0L740 12.5V6H749Z"/><text class="gl" x="742" y="3">1.0</text>
</g>
<use href="#hp" x="606" y="1000"/><use href="#hp" x="640" y="1000"/>
<text class="pr" x="583" y="997">3'</text><text class="cd" x="583" y="1010">2075423</text>
<text class="dg" x="607" y="1017">-15.3</text><text class="dg" x="642" y="1017">-19.7</text><text class="nm" x="729" y="1020">0.5</text>
<text class="pr" x="767" y="997">5'</text><text class="cd" x="768" y="1010">2079932</text>
</g>

<!-- Operon 898 -->
<g id="op898" class="gn">
<text class="ti" x="1011" y="942">Operon 898 (0.85/0.62)</text>
<rect class="b" x="876" y="965" width="100" height="11"/><text class="bl" x="926" y="973.5">0.00</text>
<rect class="b" x="993" y="957" width="107" height="19"/><text class="bl" x="1046.5" y="969">1.0</text>
<line class="bs" x1="876" y1="977" x2="1102" y2="977"/>
<line class="tr" x1="876" y1="983" x2="978" y2="983"/>
<line class="tr" x1="993" y1="983" x2="1100" y2="983"/>
<line class="dna" x1="866" y1="1003" x2="1110" y2="1003"/>
<g transform="translate(0,1003)">
<path class="cT2" d="M882 -6H877V-12.5L872 0L877 12.5V6H882Z"/>
<path class="cS" d="M910 -6H893V-12.5L884 0L893 12.5V6H910Z"/><text class="gl" x="897" y="3">0.3</text>
<path class="cJ" d="M940 -6H920V-12.5L911 0L920 12.5V6H940Z"/><text class="gl w" x="926" y="3">0.2</text>
<path class="cD" d="M982 -6H951V-12.5L942 0L951 12.5V6H982Z"/><text class="gl" x="963" y="3">0.2</text>
<path class="cO" d="M1045 -6H999V-12.5L990 0L999 12.5V6H1045Z"/><text class="gl w" x="1021" y="3">3.7</text>
<path class="cO" d="M1068 -6H1056V-12.5L1047 0L1056 12.5V6H1068Z"/><text class="gl w" x="1058" y="3">0.9</text>
<path class="cK" d="M1103 -6H1079V-12.5L1070 0L1079 12.5V6H1103Z"/><text class="gl w" x="1088" y="3">1.0</text>
</g>
<use href="#hp" x="985" y="1003"/>
<text class="pr" x="853" y="1000">3'</text><text class="cd" x="852" y="1012">2148554</text>
<text class="nm" x="878" y="1020">0.4</text><text class="dg" x="987" y="1019">-19.7</text>
<text class="pr" x="1126" y="1000">5'</text><text class="cd" x="1124" y="1012">2155508</text>
</g>

<!-- Operon 915 -->
<g id="op915" class="gn">
<text class="ti" x="154" y="1054">Operon 915 (-/ -)</text>
<rect class="b" x="99.5" y="1070" width="21.7" height="18"/><text class="bl" x="110.3" y="1081.5">1.0</text>
<rect class="b" x="139.8" y="1076" width="21.4" height="12"/><text class="bl" x="150.5" y="1084.5">0.96</text>
<line class="bs" x1="99.5" y1="1089" x2="175.4" y2="1089"/>
<line class="tr" x1="123" y1="1097" x2="99" y2="1097"/>
<line class="tr" x1="166.7" y1="1097" x2="139.5" y2="1097"/>
<line class="dna" x1="91.5" y1="1115" x2="185.7" y2="1115"/>
<g transform="translate(0,1115)">
<path class="cS" d="M98.7 -6H109.7V-12.5L118.4 0L109.7 12.5V6H98.7Z"/>
<path class="cH" d="M118.4 -6H121.2V-12.5L124 0L121.2 12.5V6H118.4Z"/>
<path class="cL" d="M137 -6H157V-12.5L166 0L157 12.5V6H137Z"/>
</g>
<use href="#hp" x="131" y="1115"/><use href="#hp" x="170.7" y="1115"/>
<text class="pr" x="80" y="1112">5'</text><text class="cd" x="81" y="1124">2185189</text>
<text class="dg" x="132" y="1132">-16.2</text><text class="dg" x="170" y="1132">-15.6</text>
<text class="pr" x="196" y="1112">3'</text><text class="cd" x="196" y="1124">2187125</text>
</g>

<!-- Operon 1000 -->
<g id="op1000" class="gn">
<text class="ti" x="483" y="1051">Operon 1000 (0.94/0.76)</text>
<rect class="b" x="322" y="1074" width="142" height="14"/><text class="bl" x="393" y="1084">0.69</text>
<rect class="b" x="489" y="1071" width="87" height="17"/><text class="bl" x="532.5" y="1082.5">0.78</text>
<rect class="b" x="593" y="1067" width="33.4" height="21"/><text class="bl" x="609.7" y="1080.5">1.0</text>
<line class="bs" x1="315" y1="1089" x2="628" y2="1089"/>
<line class="tr" x1="324" y1="1096" x2="469.5" y2="1096"/>
<line class="tr" x1="485" y1="1096" x2="576" y2="1096"/>
<line class="tr" x1="593" y1="1096" x2="627.6" y2="1096"/>
<line class="dna" x1="303" y1="1113" x2="643" y2="1113"/>
<g transform="translate(0,1113)">
<path class="cT2" d="M374.4 -6H333V-12.5L324 0L333 12.5V6H374.4Z"/><text class="gl" x="352" y="3">0.004</text>
<path class="cT2" d="M433.8 -6H384.6V-12.5L375.6 0L384.6 12.5V6H433.8Z"/><text class="gl" x="409" y="3">0.002</text>
<path class="cG" d="M471.3 -6H444V-12.5L435 0L444 12.5V6H471.3Z"/><text class="gl" x="455" y="3">0.003</text>
<path class="cG" d="M526 -6H491.4V-12.5L482.4 0L491.4 12.5V6H526Z"/><text class="gl" x="507" y="3">0.06</text>
<path class="cP" d="M578 -6H535.7V-12.5L526.7 0L535.7 12.5V6H578Z"/><text class="gl" x="555" y="3">0.03</text>
<path class="cG" d="M629.6 -6H598V-12.5L589 0L598 12.5V6H629.6Z"/><text class="gl" x="612" y="3">1.0</text>
</g>
<use href="#hp" x="317" y="1113"/><use href="#hp" x="477" y="1113"/><use href="#hp" x="584" y="1113"/>
<text class="pr" x="292" y="1110">3'</text><text class="cd" x="292" y="1122">2345505</text>
<text class="dg" x="317" y="1130">-23.3</text><text class="dg" x="479" y="1130">-26.3</text><text class="dg" x="586" y="1130">-33.3</text>
<text class="pr" x="651" y="1110">5'</text><text class="cd" x="651" y="1122">2354089</text>
</g>

<!-- Operon 1018 -->
<g id="op1018" class="gn">
<text class="ti" x="947" y="1050">Operon 1018 (0.40/0.71)</text>
<rect class="b" x="745" y="1069" width="234" height="13"/><text class="bl" x="862" y="1078.5">0.00</text>
<rect class="b" x="999" y="1062" width="123" height="20"/><text class="bl" x="1060.5" y="1074">1.0</text>
<line class="bs" x1="743.4" y1="1083" x2="1122.8" y2="1083"/>
<line class="tr" x1="995.3" y1="1090" x2="1119" y2="1090"/>
<line class="dna" x1="731.4" y1="1108" x2="1131.8" y2="1108"/>
<g transform="translate(0,1108)">
<path class="cO" d="M767.4 -6H748.5V-12.5L739.5 0L748.5 12.5V6H767.4Z"/><text class="gl w" x="756" y="3">1.3</text>
<path class="cN" d="M811 -6H779.4V-12.5L770.4 0L779.4 12.5V6H811Z"/><text class="gl" x="793" y="3">2.3</text>
<path class="cN" d="M876.2 -6H823V-12.5L814 0L823 12.5V6H876.2Z"/><text class="gl" x="848" y="3">1.65</text>
<path class="cN" d="M918 -6H887.4V-12.5L878.4 0L887.4 12.5V6H918Z"/><text class="gl" x="900" y="3">1.68</text>
<path class="cN" d="M947.3 -6H928.7V-12.5L919.7 0L928.7 12.5V6H947.3Z"/><text class="gl" x="935" y="3">1.32</text>
<path class="cN" d="M955 -6H952V-12.5L949 0L952 12.5V6H955Z"/>
<path class="cN" d="M982.4 -6H965.3V-12.5L956.3 0L965.3 12.5V6H982.4Z"/><text class="gl" x="971" y="3">1.1</text>
<path class="cN" d="M1008.2 -6H1002.2V-12.5L996.2 0L1002.2 12.5V6H1008.2Z"/><text class="gl" x="1003" y="3">0.7</text>
<path class="cT2" d="M1020.2 -6H1015.7V-12.5L1011.2 0L1015.7 12.5V6H1020.2Z"/>
<path class="cN" d="M1063.4 -6H1030.4V-12.5L1021.4 0L1030.4 12.5V6H1063.4Z"/><text class="gl" x="1044" y="3">9.3</text>
<path class="cN" d="M1100.3 -6H1073.3V-12.5L1064.3 0L1073.3 12.5V6H1100.3Z"/><text class="gl" x="1084" y="3">6.1</text>
<path class="cN" d="M1115.3 -6H1108.2V-12.5L1101.2 0L1108.2 12.5V6H1115.3Z"/><text class="gl" x="1110" y="3">2.6</text>
<path class="cN" d="M1122.8 -6H1119.8V-12.5L1116.8 0L1119.8 12.5V6H1122.8Z"/>
</g>
<use href="#hp" x="988.4" y="1108"/>
<text class="pr" x="720" y="1105">3'</text><text class="cd" x="720" y="1117">2388471</text>
<text class="nm" x="952" y="1130">0.6</text><text class="dg" x="989" y="1124">-15.4</text><text class="nm" x="1019" y="1130">9.1</text><text class="nm" x="1119" y="1130">1.0</text>
<text class="pr" x="1138" y="1105">5'</text><text class="cd" x="1137" y="1117">2399850</text>
</g>

<!-- Operon 1073 -->
<g id="op1073" class="gn">
<text class="ti" x="142" y="1163">Operon 1073 (-/ -)</text>
<rect class="b" x="109.6" y="1170" width="21.6" height="20"/><text class="bl" x="120.4" y="1182">1.0</text>
<rect class="b" x="149.6" y="1176" width="22.3" height="14"/><text class="bl" x="160.7" y="1185.5">0.96</text>
<line class="bs" x1="108.9" y1="1191" x2="186" y2="1191"/>
<line class="tr" x1="132" y1="1198" x2="106.5" y2="1198"/>
<line class="tr" x1="171.9" y1="1198" x2="142.8" y2="1198"/>
<line class="dna" x1="101.6" y1="1216" x2="196" y2="1216"/>
<g transform="translate(0,1216)">
<path class="cH" d="M108.9 -6H113.7V-12.5L118.6 0L113.7 12.5V6H108.9Z"/>
<path class="cH" d="M118.6 -6H124.6V-12.5L130.7 0L124.6 12.5V6H118.6Z"/><text class="gs w" x="124" y="3">0.5</text>
<path class="cL" d="M143.5 -6H162.9V-12.5L171.9 0L162.9 12.5V6H143.5Z"/><text class="gl" x="155" y="3">1.4</text>
</g>
<use href="#hp" x="135.5" y="1216"/><use href="#hp" x="176.8" y="1216"/>
<text class="pr" x="91" y="1213">5'</text><text class="cd" x="91" y="1225">2515714</text>
<text class="nm" x="114" y="1235">1.0</text><text class="dg" x="139" y="1232">-16.2</text><text class="dg" x="177" y="1232">-15.6</text>
<text class="pr" x="203" y="1213">3'</text><text class="cd" x="203" y="1225">2518031</text>
</g>

<!-- Operon 1247 -->
<g id="op1247" class="gn">
<text class="ti" x="358" y="1160">Operon 1247 (0.19/ -)</text>
<rect class="b" x="314.9" y="1170" width="14.1" height="17"/><text class="bl" x="322" y="1180.5">1.0</text>
<rect class="b" x="337.2" y="1179" width="55.3" height="8"/><text class="bl" x="364.8" y="1185.5">0.00</text>
<line class="bs" x1="315" y1="1188" x2="392.5" y2="1188"/>
<line class="tr" x1="323.4" y1="1197" x2="313.7" y2="1197"/>
<line class="dna" x1="310" y1="1214" x2="411.9" y2="1214"/>
<g transform="translate(0,1214)">
<path class="cS" d="M316.9 -6H321.3V-12.5L325.8 0L321.3 12.5V6H316.9Z"/>
<path class="cM" d="M337.2 -6H371.4V-12.5L380.4 0L371.4 12.5V6H337.2Z"/><text class="gl" x="356" y="3">0.5</text>
<path class="cF" d="M382.3 -6H391.3V-12.5L400.3 0L391.3 12.5V6H382.3Z"/><text class="gl" x="390" y="3">1.4</text>
</g>
<use href="#hp" x="331.9" y="1214"/>
<text class="pr" x="298" y="1210">5'</text><text class="cd" x="300" y="1223">2998820</text>
<text class="nm" x="318" y="1234">1.0</text><text class="dg" x="332" y="1230">-16.2</text>
<text class="pr" x="417" y="1210">3'</text><text class="cd" x="417" y="1223">3001411</text>
</g>

<!-- Operon 1354 -->
<g id="op1354" class="gn">
<text class="ti" x="610" y="1170">Operon 1354 (0.78/ -)</text>
<rect class="b" x="544.8" y="1181" width="78.4" height="15"/><text class="bl" x="584" y="1191">0.56</text>
<rect class="b" x="641.7" y="1177" width="18.5" height="19"/><text class="bl" x="651" y="1189">1.0</text>
<line class="bs" x1="543" y1="1197" x2="675" y2="1197"/>
<line class="tr" x1="543.7" y1="1204" x2="623.2" y2="1204"/>
<line class="tr" x1="647" y1="1204" x2="662" y2="1204"/>
<line class="dna" x1="525" y1="1222" x2="667.6" y2="1222"/>
<g transform="translate(0,1222)">
<path class="cS" d="M599.2 -6H550.8V-12.5L541.8 0L550.8 12.5V6H599.2Z"/><text class="gl" x="573" y="3">0.8</text>
<path class="cL" d="M628.8 -6H609.3V-12.5L600.3 0L609.3 12.5V6H628.8Z"/><text class="gl" x="616" y="3">0.6</text>
<path class="cE" d="M659.5 -6H649V-12.5L640 0L649 12.5V6H659.5Z"/><text class="gl" x="651" y="3">1.0</text>
</g>
<use href="#hp" x="536.3" y="1222"/><use href="#hp" x="634.3" y="1222"/>
<text class="pr" x="513" y="1218">3'</text><text class="cd" x="512" y="1231">3216073</text>
<text class="dg" x="537" y="1238">-20.0</text><text class="dg" x="636" y="1238">-35.4</text>
<text class="pr" x="674" y="1218">5'</text><text class="cd" x="674" y="1231">3219245</text>
</g>

<!-- Operon 1382 -->
<g id="op1382" class="gn">
<text class="ti" x="944" y="1160">Operon 1382 (0.88/ -)</text>
<rect class="b" x="807.5" y="1175" width="18.5" height="12"/><text class="bl" x="816.7" y="1184">0.00</text>
<rect class="b" x="838.5" y="1166" width="196.1" height="21"/><text class="bl" x="936.5" y="1179">1.0</text>
<line class="bs" x1="806.7" y1="1188" x2="1034.6" y2="1188"/>
<line class="tr" x1="834" y1="1196" x2="1035.8" y2="1196"/>
<line class="dna" x1="799" y1="1213" x2="1045" y2="1213"/>
<g transform="translate(0,1213)">
<path class="cH" d="M815 -6H811.2V-12.5L807.5 0L811.2 12.5V6H815Z"/>
<path class="cS" d="M822.3 -6H818.9V-12.5L815.6 0L818.9 12.5V6H822.3Z"/>
<path class="cS" d="M886 -6H842.4V-12.5L833.4 0L842.4 12.5V6H886Z"/><text class="gl" x="862" y="3">0.3</text>
<path class="cS" d="M940.7 -6H896.8V-12.5L887.8 0L896.8 12.5V6H940.7Z"/><text class="gl" x="917" y="3">0.4</text>
<path class="cH" d="M952.5 -6H946.9V-12.5L941.4 0L946.9 12.5V6H952.5Z"/><text class="gs w" x="948" y="3">0.1</text>
<path class="cH" d="M996.2 -6H962.2V-12.5L953.2 0L962.2 12.5V6H996.2Z"/><text class="gl w" x="977" y="3">0.2</text>
<path class="cS" d="M1035.8 -6H1006V-12.5L997 0L1006 12.5V6H1035.8Z"/><text class="gl" x="1018" y="3">1.0</text>
</g>
<use href="#hp" x="828.6" y="1213"/>
<text class="pr" x="790" y="1210">3'</text><text class="cd" x="786" y="1222">3268624</text>
<text class="dg" x="829" y="1229">-23.0</text><text class="nm" x="802" y="1235">0.04</text><text class="nm" x="821" y="1238">0</text>
<text class="pr" x="1054" y="1210">5'</text><text class="cd" x="1054" y="1222">3277915</text>
</g>

<!-- Operon 1435 -->
<g id="op1435" class="gn">
<text class="ti" x="351" y="1278">Operon 1435 (-/ -)</text>
<rect class="b" x="113" y="1296" width="233" height="12"/><text class="bl" x="229.5" y="1305">0.00</text>
<rect class="b" x="366" y="1288" width="197" height="20"/><text class="bl" x="464.5" y="1301">1.0</text>
<line class="bs" x1="113" y1="1309" x2="565" y2="1309"/>
<line class="tr" x1="115" y1="1316" x2="349" y2="1316"/>
<line class="tr" x1="368" y1="1316" x2="563" y2="1316"/>
<line class="dna" x1="98" y1="1333" x2="570" y2="1333"/>
<g transform="translate(0,1333)">
<path class="cG" d="M170 -6H117V-12.5L108 0L117 12.5V6H170Z"/>
<path class="cS" d="M189 -6H180.5V-12.5L172 0L180.5 12.5V6H189Z"/>
<path class="cS" d="M200 -6H195.5V-12.5L191 0L195.5 12.5V6H200Z"/>
<path class="cS" d="M272 -6H211V-12.5L202 0L211 12.5V6H272Z"/>
<path class="cS" d="M300 -6H283V-12.5L274 0L283 12.5V6H300Z"/>
<path class="cS" d="M343 -6H311V-12.5L302 0L311 12.5V6H343Z"/>
<path class="cS" d="M386 -6H375V-12.5L366 0L375 12.5V6H386Z"/>
<path class="cS" d="M395 -6H391.5V-12.5L388 0L391.5 12.5V6H395Z"/>
<path class="cS" d="M416 -6H406V-12.5L397 0L406 12.5V6H416Z"/>
<path class="cS" d="M440 -6H428V-12.5L419 0L428 12.5V6H440Z"/>
<path class="cS" d="M485 -6H451V-12.5L442 0L451 12.5V6H485Z"/>
<path class="cO" d="M510 -6H496V-12.5L487 0L496 12.5V6H510Z"/>
<path class="cO" d="M563 -6H521V-12.5L512 0L521 12.5V6H563Z"/>
</g>
<use href="#hp" x="356" y="1333"/>
<text class="pr" x="89" y="1331">3'</text><text class="cd" x="89" y="1344">3376013</text>
<text class="dg" x="356" y="1349">-23.3</text>
<text class="pr" x="583" y="1331">5'</text><text class="cd" x="583" y="1344">3392707</text>
</g>

<!-- Operon 1445 -->
<g id="op1445" class="gn">
<text class="ti" x="744" y="1271">Operon 1445 (-/ -)</text>
<rect class="b" x="691.4" y="1281" width="52" height="24"/><text class="bl" x="717.4" y="1296">1.59</text>
<rect class="b" x="759.7" y="1286" width="38.1" height="19"/><text class="bl" x="778.7" y="1298.5">1.0</text>
<line class="bs" x1="691.4" y1="1306" x2="797.8" y2="1306"/>
<line class="tr" x1="690.4" y1="1314" x2="743.4" y2="1314"/>
<line class="tr" x1="759.7" y1="1314" x2="797.8" y2="1314"/>
<line class="dna" x1="671" y1="1332" x2="806" y2="1332"/>
<g transform="translate(0,1332)">
<path class="cS" d="M703.4 -6H695.7V-12.5L688 0L695.7 12.5V6H703.4Z"/>
<path class="cS" d="M744 -6H712.4V-12.5L703.4 0L712.4 12.5V6H744Z"/>
<path class="cS" d="M765 -6H760.7V-12.5L756.5 0L760.7 12.5V6H765Z"/>
<path class="cS" d="M774 -6H770V-12.5L766 0L770 12.5V6H774Z"/>
<path class="cS" d="M797.8 -6H784V-12.5L775 0L784 12.5V6H797.8Z"/>
</g>
<use href="#hp" x="684" y="1332"/><use href="#hp" x="751.3" y="1332"/>
<text class="pr" x="659" y="1328">3'</text><text class="cd" x="660" y="1341">3410668</text>
<text class="dg" x="685" y="1348">-29.3</text><text class="dg" x="752" y="1348">-18.4</text>
<text class="pr" x="817" y="1328">5'</text><text class="cd" x="817" y="1341">3413578</text>
</g>

<!-- Operon 1052 -->
<g id="op1052" class="gn">
<text class="ti" x="1019" y="1269">Operon 1052 (0.01/0.33)</text>
<rect class="b" x="924.6" y="1280" width="53.7" height="21"/><text class="bl" x="951.5" y="1292">0.84</text>
<rect class="b" x="1003.7" y="1285" width="52" height="16"/><text class="bl" x="1029.7" y="1295.5">0.84</text>
<rect class="b" x="1066" y="1283" width="47.3" height="18"/><text class="bl" x="1089.7" y="1294.5">1.0</text>
<line class="bs" x1="913" y1="1302" x2="1113.3" y2="1302"/>
<line class="tr" x1="926" y1="1310" x2="981" y2="1310"/>
<line class="tr" x1="999.5" y1="1310" x2="1050.5" y2="1310"/>
<line class="tr" x1="1067.8" y1="1310" x2="1113.3" y2="1310"/>
<line class="dna" x1="913" y1="1328" x2="1121.5" y2="1328"/>
<g transform="translate(0,1328)">
<path class="cS" d="M983.2 -6H933.6V-12.5L924.6 0L933.6 12.5V6H983.2Z"/><text class="gl" x="957" y="3">0.04</text>
<path class="cS" d="M1024.5 -6H1006.8V-12.5L997.8 0L1006.8 12.5V6H1024.5Z"/><text class="gl" x="1013" y="3">0.04</text>
<path class="cS" d="M1053 -6H1034.5V-12.5L1025.5 0L1034.5 12.5V6H1053Z"/><text class="gl" x="1042" y="3">0.03</text>
<path class="cS" d="M1115 -6H1076.8V-12.5L1067.8 0L1076.8 12.5V6H1115Z"/><text class="gl" x="1094" y="3">1.0</text>
</g>
<use href="#hp" x="918" y="1328"/><use href="#hp" x="991.3" y="1328"/><use href="#hp" x="1061.3" y="1328"/>
<text class="pr" x="893" y="1325">3'</text><text class="cd" x="893" y="1338">2466969</text>
<text class="dg" x="920" y="1344">-28.3</text><text class="dg" x="991" y="1344">-16.8</text><text class="dg" x="1061" y="1344">-20.0</text>
<text class="pr" x="1131" y="1325">5'</text><text class="cd" x="1131" y="1336">2473329</text>
</g>

<!-- Operon 1600 -->
<g id="op1600" class="gn">
<text class="ti" x="207" y="1383">Operon 1600 (-/ -)</text>
<rect class="b" x="107" y="1405" width="11" height="9"/><text class="bl" x="112.5" y="1412">0.0</text>
<rect class="b" x="129" y="1395" width="152" height="19"/><text class="bl" x="205" y="1407">1.0</text>
<line class="bs" x1="107" y1="1415" x2="283" y2="1415"/>
<line class="tr" x1="109" y1="1422" x2="120" y2="1422"/>
<line class="tr" x1="131" y1="1422" x2="281" y2="1422"/>
<line class="dna" x1="100" y1="1440" x2="292" y2="1440"/>
<g transform="translate(0,1440)">
<path class="cH" d="M116 -6H112.5V-12.5L109 0L112.5 12.5V6H116Z"/>
<path class="cS" d="M160 -6H133V-12.5L124 0L133 12.5V6H160Z"/>
<path class="cH" d="M215 -6H171V-12.5L162 0L171 12.5V6H215Z"/>
<path class="cK" d="M254 -6H226V-12.5L217 0L226 12.5V6H254Z"/>
<path class="cD" d="M283 -6H265V-12.5L256 0L265 12.5V6H283Z"/>
</g>
<use href="#hp" x="120" y="1440"/>
<text class="pr" x="88" y="1437">3'</text><text class="cd" x="88" y="1450">3695018</text>
<text class="dg" x="122" y="1456">-25.9</text>
<text class="pr" x="300" y="1437">5'</text><text class="cd" x="300" y="1450">3699871</text>
</g>

<!-- Operon 1745 -->
<g id="op1745" class="gn">
<text class="ti" x="514" y="1380">Operon 1745 (0.63/0.26)</text>
<rect class="b" x="431.5" y="1391" width="51" height="23"/><text class="bl" x="457" y="1404">1.05</text>
<rect class="b" x="500.5" y="1393" width="107.3" height="21"/><text class="bl" x="554" y="1405">1.0</text>
<line class="bs" x1="431.5" y1="1415" x2="607.8" y2="1415"/>
<line class="tr" x1="432.5" y1="1421" x2="480.4" y2="1421"/>
<line class="tr" x1="499.3" y1="1421" x2="609.3" y2="1421"/>
<line class="dna" x1="413" y1="1440" x2="624" y2="1440"/>
<g transform="translate(0,1440)">
<path class="cE" d="M485.5 -6H438.5V-12.5L429.5 0L438.5 12.5V6H485.5Z"/><text class="gl" x="460" y="3">0.3</text>
<path class="cE" d="M531.3 -6H505.3V-12.5L496.3 0L505.3 12.5V6H531.3Z"/><text class="gl" x="516" y="3">0.06</text>
<path class="cE" d="M548.7 -6H541V-12.5L533.4 0L541 12.5V6H548.7Z"/><text class="gl" x="543" y="3">0.4</text>
<path class="cE" d="M609.3 -6H559.8V-12.5L550.8 0L559.8 12.5V6H609.3Z"/><text class="gl" x="582" y="3">1.0</text>
</g>
<use href="#hp" x="424.4" y="1440"/><use href="#hp" x="490.9" y="1440"/>
<text class="pr" x="402" y="1437">3'</text><text class="cd" x="402" y="1450">3997446</text>
<text class="dg" x="426" y="1456">-19.6</text><text class="dg" x="492" y="1456">-18.6</text>
<text class="pr" x="631" y="1437">5'</text><text class="cd" x="631" y="1450">4002355</text>
</g>

<!-- Operon 1560 -->
<g id="op1560" class="gn">
<text class="ti" x="770" y="1388">Operon 1560 (0.99/ -)</text>
<rect class="b" x="743.2" y="1398" width="27.8" height="16"/><text class="bl" x="757" y="1408.5">0.56</text>
<rect class="b" x="776.5" y="1395" width="21.5" height="19"/><text class="bl" x="787.2" y="1407">1.0</text>
<line class="bs" x1="736.6" y1="1415" x2="798" y2="1415"/>
<line class="tr" x1="742" y1="1421" x2="758" y2="1421"/>
<line class="tr" x1="772.6" y1="1424" x2="807" y2="1424"/>
<line class="dna" x1="730" y1="1440" x2="811.6" y2="1440"/>
<g transform="translate(0,1440)">
<path class="cS" d="M755 -6H747.3V-12.5L739.6 0L747.3 12.5V6H755Z"/><text class="gl" x="749" y="3">0.4</text>
<path class="cL" d="M778.6 -6H771.8V-12.5L765 0L771.8 12.5V6H778.6Z"/><text class="gl" x="773" y="3">0.9</text>
<path class="cE" d="M807 -6H789V-12.5L780 0L789 12.5V6H807Z"/><text class="gl" x="795" y="3">1.0</text>
</g>
<use href="#hp" x="736" y="1440"/><use href="#hp" x="759" y="1440"/>
<text class="pr" x="713" y="1437">3'</text><text class="cd" x="712" y="1450">3619722</text>
<text class="dg" x="737" y="1455">-16.3</text><text class="dg" x="760" y="1455">-18.4</text>
<text class="pr" x="826" y="1437">5'</text><text class="cd" x="825" y="1450">36221210</text>
</g>

<!-- Organism box -->
<g id="organism">
<rect x="940" y="1391" width="187" height="49" fill="#fff" stroke="#777" stroke-width=".8"/>
<text x="1034" y="1411" text-anchor="middle" style="font-size:19px;font-style:italic;font-family:'Liberation Sans',Arial,sans-serif">Clostridium</text>
<text x="1034" y="1433" text-anchor="middle" style="font-size:19px;font-family:'Liberation Sans',Arial,sans-serif"><tspan font-style="italic">Cellulolyticum</tspan> H10</text>
</g>

<!-- Legend -->
<g id="legend" class="gn">
<g fill="none" stroke="#999" stroke-width=".8">
<rect x="27" y="1479" width="341" height="68"/><rect x="403" y="1479" width="205" height="68"/><rect x="639" y="1479" width="228" height="68"/><rect x="900" y="1479" width="162" height="68"/>
</g>
<text class="lg" x="33" y="1496">Cellular process and Signaling</text>
<text class="lg" x="411" y="1496">Metabolism</text>
<text class="lg" x="646" y="1496">Information storage and processing</text>
<text class="lg" x="907" y="1496">Uncharacterized</text>
<g transform="translate(0,1529)">
<path class="cT1" d="M33 -5H41V-9L49 0L41 9V5H33Z"/><text class="ll" x="51" y="6">T</text>
<path class="cD" d="M73 -5H81V-9L89 0L81 9V5H73Z"/><text class="ll" x="91" y="6">D</text>
<path class="cO" d="M113 -5H121V-9L129 0L121 9V5H113Z"/><text class="ll" x="131" y="6">O</text>
<path class="cM" d="M152 -5H160V-9L168 0L160 9V5H152Z"/><text class="ll" x="171" y="6">M</text>
<path class="cT2" d="M196 -5H204V-9L212 0L204 9V5H196Z"/><text class="ll" x="214" y="6">T</text>
<path class="cU" d="M237 -5H245V-9L253 0L245 9V5H237Z"/><text class="ll" x="255" y="6">U</text>
<path class="cV" d="M281 -5H289V-9L297 0L289 9V5H281Z"/><text class="ll" x="299" y="6">V</text>
<path class="cN" d="M324 -5H332V-9L340 0L332 9V5H324Z"/><text class="ll" x="342" y="6">N</text>
<path class="cE" d="M409 -5H417V-9L425 0L417 9V5H409Z"/><text class="ll" x="428" y="6">E</text>
<path class="cF" d="M450 -5H458V-9L466 0L458 9V5H450Z"/><text class="ll" x="469" y="6">F</text>
<path class="cG" d="M490 -5H498V-9L506 0L498 9V5H490Z"/><text class="ll" x="509" y="6">G</text>
<path class="cP" d="M532 -5H540V-9L548 0L540 9V5H532Z"/><text class="ll" x="552" y="6">P</text>
<path class="cC" d="M573 -5H581V-9L589 0L581 9V5H573Z"/><text class="ll" x="592" y="6">C</text>
<path class="cJ" d="M645 -5H653V-9L661 0L653 9V5H645Z"/><text class="ll" x="664" y="6">J</text>
<path class="cL" d="M686 -5H694V-9L702 0L694 9V5H686Z"/><text class="ll" x="705" y="6">L</text>
<path class="cK" d="M726 -5H734V-9L742 0L734 9V5H726Z"/><text class="ll" x="748" y="6">K</text>
<path class="cS" d="M906 -5H914V-9L922 0L914 9V5H906Z"/><text class="ll" x="925" y="6">S</text>
<path class="cH" d="M946 -5H954V-9L962 0L954 9V5H946Z"/><text class="ll" x="966" y="6">Hypothetical</text>
</g>
</g>
</g>
</svg>
